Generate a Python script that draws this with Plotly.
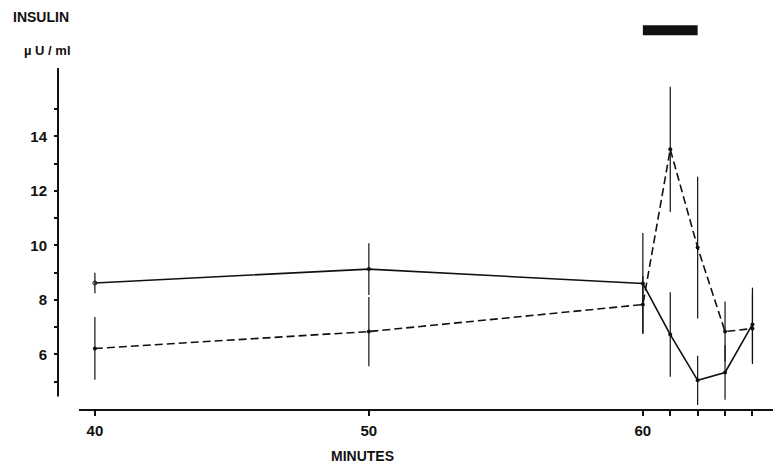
import plotly.graph_objects as go

# Sampling times (minutes) and insulin means ± error
minutes = [40, 50, 60, 61, 62, 63, 64]
solid_mean = [8.62, 9.13, 8.60, 6.73, 5.05, 5.34, 7.10]
solid_err = [0.38, 0.95, 1.85, 1.55, 0.90, 1.00, 1.35]
dashed_mean = [6.22, 6.84, 7.83, 13.52, 9.92, 6.84, 6.95]
dashed_err = [1.15, 1.27, 1.05, 2.30, 2.60, 1.10, 1.30]

x_tickvals = [40, 50, 60, 61, 62, 63, 64]
x_ticktext = ["40", "50", "60", "", "", "", ""]
y_tickvals = [5, 6, 7, 8, 9, 10, 11, 12, 13, 14, 15]
y_ticktext = ["", "6", "", "8", "", "10", "", "12", "", "14", ""]

FONT = "Liberation Sans"
INK = "#111111"

fig = go.Figure()

fig.add_trace(go.Scatter(
    x=minutes, y=dashed_mean, mode="lines+markers",
    line=dict(color=INK, width=1.6, dash="8px,4px"),
    marker=dict(size=4, color=INK),
    error_y=dict(type="data", array=dashed_err, visible=True,
                 color=INK, thickness=1.2, width=0),
    showlegend=False,
))
fig.add_trace(go.Scatter(
    x=minutes, y=solid_mean, mode="lines+markers",
    line=dict(color=INK, width=1.6),
    marker=dict(size=4, color=INK,
                symbol=["circle-open"] + ["circle"] * (len(minutes) - 1)),
    error_y=dict(type="data", array=solid_err, visible=True,
                 color=INK, thickness=1.2, width=0),
    showlegend=False,
))

# Vertical axis line drawn separately so it stops short of the x axis
fig.add_shape(type="line", xref="paper", yref="y", x0=0, x1=0,
              y0=4.46, y1=16.5, line=dict(color=INK, width=2))
# Infusion period bar
fig.add_shape(type="rect", xref="x", yref="y", x0=60, x1=62,
              y0=17.70, y1=18.07, fillcolor=INK, line=dict(width=0))

label_font = dict(family=FONT, size=14, color=INK)
fig.add_annotation(text="<b>INSULIN</b>", xref="paper", yref="paper",
                   x=-0.066, y=1.005, xanchor="left", yanchor="middle",
                   showarrow=False, font=label_font)
fig.add_annotation(text="<b>µ U / ml</b>", xref="paper", yref="paper",
                   x=-0.05, y=0.918, xanchor="left", yanchor="middle",
                   showarrow=False, font=dict(family=FONT, size=13, color=INK))
fig.add_annotation(text="<b>MINUTES</b>", xref="paper", yref="paper",
                   x=0.426, y=-0.12, xanchor="center", yanchor="middle",
                   showarrow=False, font=label_font)

tick_font = dict(family=FONT, size=15, color=INK, weight="bold")
fig.update_layout(
    width=775, height=465,
    margin=dict(l=58, r=2, t=19, b=56),
    paper_bgcolor="white", plot_bgcolor="white",
    font=dict(family=FONT, size=13, color=INK),
    xaxis=dict(
        domain=[(79 - 58) / 715, 1], range=[39.42, 64.75],
        showgrid=False, zeroline=False,
        showline=True, linecolor=INK, linewidth=2,
        ticks="outside", ticklen=5, tickwidth=1.5, tickcolor=INK,
        tickvals=x_tickvals, ticktext=x_ticktext,
        tickfont=tick_font, ticklabelstandoff=2,
    ),
    yaxis=dict(
        range=[4.0, 18.3], anchor="free", position=0,
        showgrid=False, zeroline=False, showline=False,
        ticks="outside", ticklen=4, tickwidth=1.5, tickcolor=INK,
        tickvals=y_tickvals, ticktext=y_ticktext,
        tickfont=tick_font, ticklabelstandoff=4,
    ),
)

fig.write_html("out.html")
